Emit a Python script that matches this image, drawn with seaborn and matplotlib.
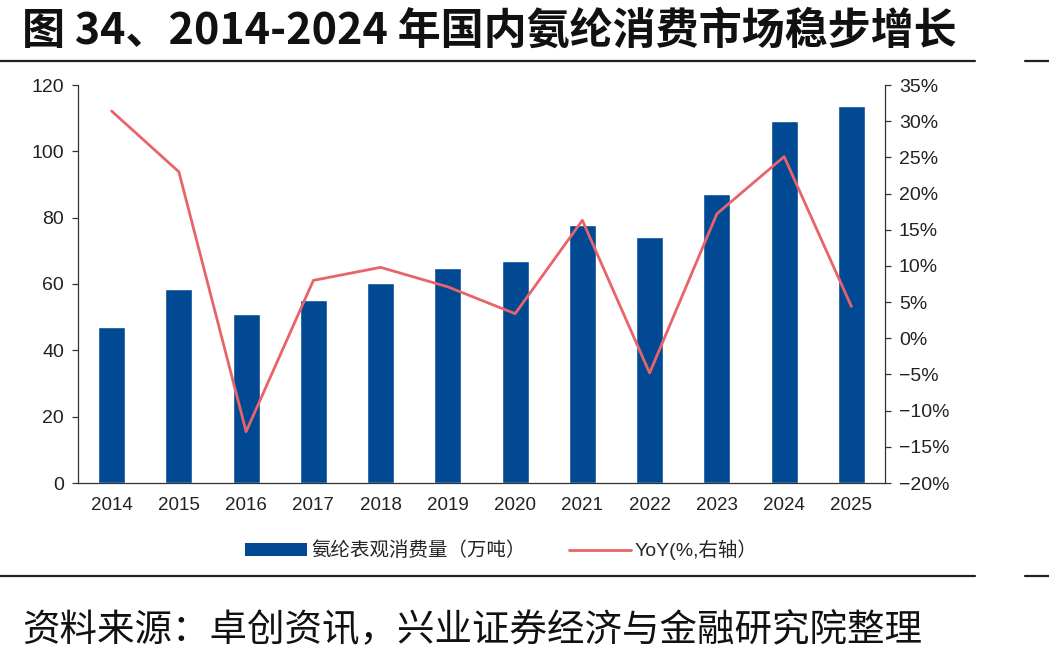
import numpy as np
import pandas as pd
import seaborn as sns
import matplotlib.pyplot as plt
from matplotlib.lines import Line2D
from matplotlib.patches import Patch
from matplotlib.ticker import FuncFormatter, MultipleLocator

# data
years = ['2014', '2015', '2016', '2017', '2018', '2019',
         '2020', '2021', '2022', '2023', '2024', '2025']
consumption = [47.1, 58.4, 50.9, 55.2, 60.4, 64.9, 66.8, 77.9, 74.3, 87.0, 109.1, 113.7]
yoy = [31.4, 23.0, -12.9, 8.0, 9.8, 7.1, 3.4, 16.3, -4.8, 17.2, 25.1, 4.4]

title = '图 34、2014-2024 年国内氨纶消费市场稳步增长'
source = '资料来源：卓创资讯，兴业证券经济与金融研究院整理'
bar_label = '氨纶表观消费量（万吨）'
line_label = 'YoY(%,右轴）'

BAR = '#014A93'
LINE = '#E9636A'
TXT = '#222222'

sns.set_style('white')
plt.rcParams['font.family'] = ['Liberation Sans', 'Noto Sans CJK SC', 'DejaVu Sans']
plt.rcParams['axes.unicode_minus'] = True

df = pd.DataFrame({'year': years, 'cons': consumption, 'yoy': np.array(yoy) / 100})

fig = plt.figure(figsize=(10.49, 6.64), dpi=100)
ax = fig.add_axes([78 / 1049, 1 - 483 / 664, (885 - 78) / 1049, (483 - 85) / 664])

sns.barplot(data=df, x='year', y='cons', color=BAR, width=0.4, saturation=1, ax=ax)
ax.set_ylim(0, 120)
ax.set_xlim(-0.5, len(years) - 0.5)
ax.yaxis.set_major_locator(MultipleLocator(20))
ax.set_xlabel('')
ax.set_ylabel('')

ax2 = ax.twinx()
sns.lineplot(x=np.arange(len(years)), y=df['yoy'], color=LINE, linewidth=2.0, sort=False, ax=ax2)
ax2.set_ylim(-0.20, 0.35)
ax2.yaxis.set_major_locator(MultipleLocator(0.05))
ax2.yaxis.set_major_formatter(FuncFormatter(lambda v, p: f'{v * 100:.0f}%'.replace('-', '\u2212')))
ax2.set_ylabel('')

for a in (ax, ax2):
    for s in a.spines.values():
        s.set_color('#333333')
        s.set_linewidth(0.9)
    a.spines['top'].set_visible(False)
ax.spines['right'].set_visible(False)
ax2.spines['left'].set_visible(False)
ax2.spines['bottom'].set_visible(False)

# x ticks sit between categories
ax.set_xticks(np.arange(-0.5, len(years), 1.0), minor=True)
ax.tick_params(axis='x', which='major', length=0, pad=10, labelsize=13.5, labelcolor=TXT)
ax.tick_params(axis='x', which='minor', length=5, direction='out', color='#333333', width=0.9)
ax.tick_params(axis='y', length=4, direction='out', color='#333333', width=0.9,
               labelsize=14, labelcolor=TXT, pad=6)
ax2.tick_params(axis='y', length=4, direction='out', color='#333333', width=0.9,
                labelsize=14, labelcolor=TXT, pad=6)

# legend
handles = [Patch(facecolor=BAR, edgecolor='none', label=bar_label),
           Line2D([], [], color=LINE, linewidth=2.0, label=line_label)]
fig.legend(handles=handles, loc='center', bbox_to_anchor=(0.478, 1 - 550 / 664), ncol=2,
           frameon=False, fontsize=14, handlelength=3.2, handleheight=0.6,
           handletextpad=0.2, columnspacing=2.2)

# title, rules and source
fig.text(22 / 1049, 1 - 31 / 664, title, fontsize=31, fontweight='bold', color='#111111',
         va='center', ha='left', family=['Noto Sans CJK SC'])
for yy in (61, 576):
    fig.add_artist(Line2D([0, 975 / 1049], [1 - yy / 664] * 2, color='#222222', linewidth=1.6))
    fig.add_artist(Line2D([1025 / 1049, 1], [1 - yy / 664] * 2, color='#222222', linewidth=1.6))
fig.text(22 / 1049, 1 - 631 / 664, source, fontsize=27, color='#111111',
         va='center', ha='left', family=['Noto Sans CJK SC'])

fig.savefig('out.png', dpi=100)
